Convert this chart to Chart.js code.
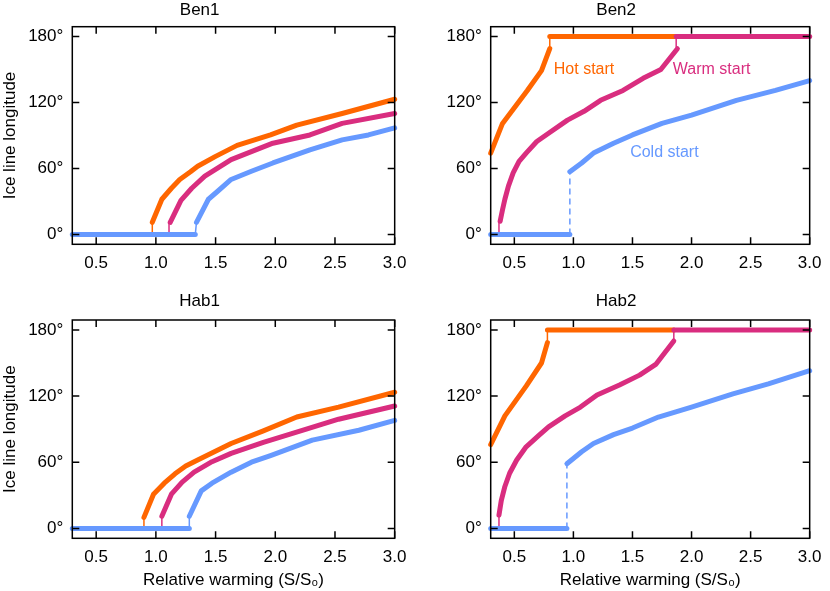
<!DOCTYPE html>
<html>
<head>
<meta charset="utf-8">
<script src="https://cdn.jsdelivr.net/npm/chart.js@4.4.1/dist/chart.umd.min.js"></script>
<style>
  body { margin: 0; background: #fff; }
  #wrap { position: relative; width: 830px; height: 591px; }
  canvas { position: absolute; }
</style>
</head>
<body>
<div id="wrap">
  <canvas id="ben1" width="415" height="290" style="left:0;top:0"></canvas>
  <canvas id="ben2" width="415" height="290" style="left:415px;top:0"></canvas>
  <canvas id="hab1" width="415" height="301" style="left:0;top:290px"></canvas>
  <canvas id="hab2" width="415" height="301" style="left:415px;top:290px"></canvas>
</div>
<script>
// axis ticks
const xTicks = [0.5, 1.0, 1.5, 2.0, 2.5, 3.0];
const yTicks = [0, 60, 120, 180];

// Ben1
const ben1Hot = [[0.97, 11], [1.05, 32], [1.13, 42], [1.2, 50], [1.29, 57], [1.35, 62], [1.5, 71], [1.68, 81], [1.96, 90.5], [2.18, 99.5], [2.56, 110], [3.0, 123]];
const ben1HotJump = [[0.97, 0], [0.97, 11]];
const ben1Warm = [[1.12, 11], [1.21, 31], [1.3, 42], [1.41, 53], [1.52, 60.5], [1.63, 68], [1.98, 83], [2.29, 90.5], [2.56, 101], [3.0, 110]];
const ben1WarmJump = [[1.11, 0], [1.11, 11]];
const ben1ColdFlat = [[0.3, 0], [1.33, 0]];
const ben1ColdJump = [[1.33, 0], [1.34, 11]];
const ben1Cold = [[1.34, 11], [1.44, 32], [1.52, 39.5], [1.63, 50], [1.8, 57.5], [1.98, 65], [2.29, 77], [2.56, 86], [2.78, 90.5], [3.0, 97]];

// Ben2
const ben2Hot = [[0.3, 74], [0.4, 101], [0.61, 131], [0.73, 149], [0.8, 169]];
const ben2HotJump = [[0.8, 169], [0.8, 180]];
const ben2HotFlat = [[0.8, 180], [1.87, 180]];
const ben2Warm = [[0.38, 12], [0.4, 22.5], [0.42, 32], [0.45, 44], [0.49, 56], [0.54, 66.5], [0.6, 74], [0.69, 84.5], [0.79, 92], [0.95, 104], [1.09, 112], [1.23, 122], [1.42, 131], [1.59, 142], [1.74, 150], [1.88, 169]];
const ben2WarmLow = [[0.37, 0], [0.37, 12]];
const ben2WarmJump = [[1.87, 170], [1.87, 180]];
const ben2WarmFlat = [[1.87, 180], [3.0, 180]];
const ben2ColdFlat = [[0.3, 0], [0.97, 0]];
const ben2ColdJump = [[0.97, 0], [0.97, 57]];
const ben2Cold = [[0.97, 57], [1.07, 65], [1.17, 74], [1.34, 83], [1.5, 90.5], [1.75, 101], [2.0, 108.5], [2.38, 122], [2.71, 131], [3.0, 140]];
const ben2Notes = [['Hot start', 1.09, 150], ['Warm start', 2.17, 150], ['Cold start', 1.77, 74]];

// Hab1
const hab1Hot = [[0.9, 10], [0.98, 31], [1.07, 41], [1.16, 49.5], [1.25, 56.5], [1.35, 62], [1.63, 77], [1.9, 88.5], [2.18, 101], [2.53, 110], [3.0, 123.5]];
const hab1HotJump = [[0.9, 0], [0.9, 10]];
const hab1Warm = [[1.05, 11], [1.13, 31], [1.22, 42], [1.32, 51], [1.47, 60.5], [1.63, 68], [1.9, 78], [2.26, 90], [2.53, 99], [3.0, 111]];
const hab1WarmJump = [[1.05, 0], [1.05, 11]];
const hab1ColdFlat = [[0.3, 0], [1.28, 0]];
const hab1ColdJump = [[1.28, 0], [1.28, 11]];
const hab1Cold = [[1.28, 11], [1.38, 34], [1.47, 41], [1.63, 51], [1.8, 60], [1.96, 66], [2.31, 80], [2.7, 89], [3.0, 98]];

// Hab2
const hab2Hot = [[0.3, 76], [0.42, 102], [0.6, 129], [0.73, 150], [0.78, 168.5]];
const hab2HotJump = [[0.78, 168.5], [0.78, 180]];
const hab2HotFlat = [[0.78, 180], [1.85, 180]];
const hab2Warm = [[0.37, 12], [0.39, 25.5], [0.42, 38], [0.46, 50], [0.52, 62], [0.6, 74], [0.71, 84.5], [0.79, 92], [0.93, 102], [1.06, 110], [1.2, 121], [1.39, 130], [1.56, 139], [1.7, 149], [1.85, 170]];
const hab2WarmLow = [[0.37, 0], [0.37, 12]];
const hab2WarmJump = [[1.85, 170], [1.85, 180]];
const hab2WarmFlat = [[1.85, 180], [3.0, 180]];
const hab2ColdFlat = [[0.3, 0], [0.945, 0]];
const hab2ColdJump = [[0.945, 0], [0.945, 58.6]];
const hab2Cold = [[0.945, 58.6], [1.07, 69.5], [1.17, 77], [1.34, 85], [1.5, 91], [1.72, 101], [2.0, 110], [2.35, 122], [2.65, 131], [3.0, 143]];

const HOT = '#ff6600';
const WARM = '#d92d7f';
const COLD = '#6699ff';
const FONT = '"Liberation Sans", Arial, Helvetica, sans-serif';

Chart.defaults.font.family = FONT;
Chart.defaults.font.size = 17;
Chart.defaults.color = '#000';

function line(points, color, width, dash) {
  return {
    data: points.map(p => ({x: p[0], y: p[1]})),
    borderColor: color,
    borderWidth: width,
    borderDash: dash || [],
    borderCapStyle: width > 2 ? 'round' : 'butt',
    borderJoinStyle: 'round',
    pointRadius: 0,
    fill: false,
    tension: 0,
    clip: false
  };
}

// box round the plot with inward ticks on all sides
const framePlugin = {
  id: 'frame',
  afterDatasetsDraw(chart) {
    const {ctx, chartArea: a, scales: {x, y}} = chart;
    ctx.save();
    ctx.strokeStyle = '#000';
    ctx.lineWidth = 1.5;
    ctx.strokeRect(a.left, a.top, a.right - a.left, a.bottom - a.top);
    ctx.beginPath();
    x.ticks.forEach(t => {
      const px = x.getPixelForValue(t.value);
      ctx.moveTo(px, a.bottom); ctx.lineTo(px, a.bottom - 7);
      ctx.moveTo(px, a.top); ctx.lineTo(px, a.top + 7);
    });
    y.ticks.forEach(t => {
      const py = y.getPixelForValue(t.value);
      ctx.moveTo(a.left, py); ctx.lineTo(a.left + 7, py);
      ctx.moveTo(a.right, py); ctx.lineTo(a.right - 7, py);
    });
    ctx.stroke();
    ctx.restore();
  }
};

const notesPlugin = {
  id: 'notes',
  afterDatasetsDraw(chart, args, opts) {
    if (!opts.items) return;
    const {ctx, scales: {x, y}} = chart;
    ctx.save();
    ctx.font = '16px ' + FONT;
    ctx.textAlign = 'center';
    ctx.textBaseline = 'middle';
    opts.items.forEach(n => {
      ctx.fillStyle = n[3];
      ctx.fillText(n[0], x.getPixelForValue(n[1]), y.getPixelForValue(n[2]));
    });
    ctx.restore();
  }
};

function makePanel(id, title, p, series, notes) {
  new Chart(document.getElementById(id), {
    type: 'line',
    data: {datasets: series.map(s => line(s[0], s[1], s[2], s[3]))},
    plugins: [framePlugin, notesPlugin],
    options: {
      responsive: false,
      animation: false,
      events: [],
      layout: {padding: {left: 0, right: p.padRight, top: 0, bottom: 0}},
      plugins: {
        legend: {display: false},
        tooltip: {enabled: false},
        title: {display: true, text: title, font: {size: 17, weight: 'normal'}, color: '#000',
                padding: {top: p.titleTop, bottom: p.titleBottom}},
        notes: {items: notes}
      },
      scales: {
        x: {
          type: 'linear', min: 0.3, max: 3.0,
          afterBuildTicks: s => { s.ticks = xTicks.map(v => ({value: v})); },
          afterFit: s => { s.height = p.xHeight; },
          ticks: {padding: 8.5, maxRotation: 0, callback: v => v.toFixed(1)},
          grid: {display: false, drawTicks: false},
          border: {display: false},
          title: {display: p.xTitle, text: 'Relative warming (S/S\u2080)', padding: {top: 0, bottom: 0.8}}
        },
        y: {
          type: 'linear', min: -9, max: 189,
          afterBuildTicks: s => { s.ticks = yTicks.map(v => ({value: v})); },
          afterFit: s => { s.width = p.yWidth; },
          ticks: {padding: 9, callback: v => v + '\u00b0'},
          grid: {display: false, drawTicks: false},
          border: {display: false},
          title: {display: p.yTitle, text: 'Ice line longitude', padding: {top: 0, bottom: 0}}
        }
      }
    }
  });
}

const topLeft = {yWidth: 72.3, padRight: 15.7, xHeight: 45.7, titleTop: 0, titleBottom: 6.3, xTitle: false, yTitle: true};
const topRight = {yWidth: 75.7, padRight: 12.7, xHeight: 45.7, titleTop: 0, titleBottom: 6.3, xTitle: false, yTitle: false};
const botLeft = {yWidth: 72.3, padRight: 15.7, xHeight: 52.7, titleTop: 0.8, titleBottom: 8.8, xTitle: true, yTitle: true};
const botRight = {yWidth: 75.7, padRight: 12.7, xHeight: 52.7, titleTop: 0.8, titleBottom: 8.8, xTitle: true, yTitle: false};

makePanel('ben1', 'Ben1', topLeft, [
  [ben1ColdFlat, COLD, 5], [ben1Cold, COLD, 5], [ben1ColdJump, COLD, 1.5],
  [ben1Warm, WARM, 5], [ben1WarmJump, WARM, 1.5],
  [ben1Hot, HOT, 5], [ben1HotJump, HOT, 1.5]
]);

makePanel('ben2', 'Ben2', topRight, [
  [ben2ColdFlat, COLD, 5], [ben2Cold, COLD, 5], [ben2ColdJump, COLD, 1.5, [6, 4]],
  [ben2WarmLow, WARM, 1.5], [ben2Warm, WARM, 5], [ben2WarmJump, WARM, 1.5], [ben2WarmFlat, WARM, 5],
  [ben2Hot, HOT, 5], [ben2HotJump, HOT, 1.5], [ben2HotFlat, HOT, 5]
], ben2Notes.map((n, i) => [n[0], n[1], n[2], [HOT, WARM, COLD][i]]));

makePanel('hab1', 'Hab1', botLeft, [
  [hab1ColdFlat, COLD, 5], [hab1Cold, COLD, 5], [hab1ColdJump, COLD, 1.5],
  [hab1Warm, WARM, 5], [hab1WarmJump, WARM, 1.5],
  [hab1Hot, HOT, 5], [hab1HotJump, HOT, 1.5]
]);

makePanel('hab2', 'Hab2', botRight, [
  [hab2ColdFlat, COLD, 5], [hab2Cold, COLD, 5], [hab2ColdJump, COLD, 1.5, [6, 4]],
  [hab2WarmLow, WARM, 1.5], [hab2Warm, WARM, 5], [hab2WarmJump, WARM, 1.5], [hab2WarmFlat, WARM, 5],
  [hab2Hot, HOT, 5], [hab2HotJump, HOT, 1.5], [hab2HotFlat, HOT, 5]
]);
</script>
</body>
</html>
